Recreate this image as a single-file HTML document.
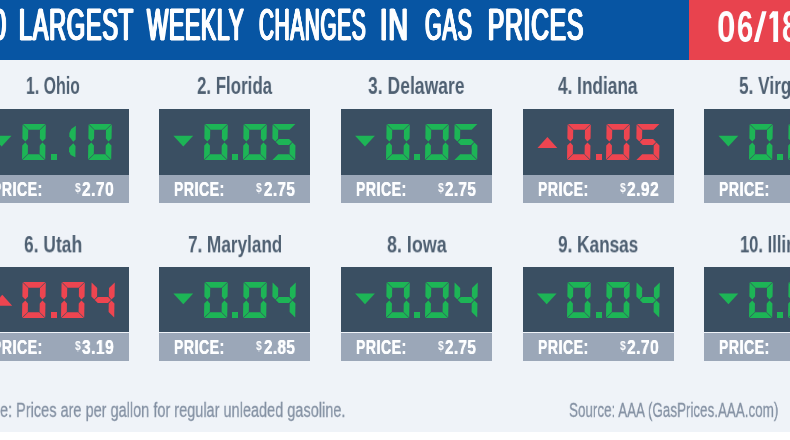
<!DOCTYPE html><html><head><meta charset="utf-8"><title>Gas Prices</title><style>
html,body{margin:0;padding:0}
body{width:790px;height:440px;overflow:hidden;background:#eff3f8;position:relative;font-family:"Liberation Sans",sans-serif}
.t{position:absolute;white-space:nowrap;line-height:1;transform-origin:0 0;display:block;will-change:transform}

</style></head><body>
<div style="position:absolute;left:0;top:0;width:790px;height:60px;background:#0755a3"></div>
<div style="position:absolute;left:688.8px;top:0;width:102px;height:60px;background:#e8434e"></div>
<div style="position:absolute;left:0;top:431.6px;width:790px;height:9px;background:#ffffff"></div>
<div style="position:absolute;left:-22.60px;top:108.80px;width:151.20px;height:65.90px;background:#3a4f62"></div>
<div style="position:absolute;left:-22.60px;top:174.70px;width:151.20px;height:28.70px;background:#9ba7b8"></div>
<svg style="position:absolute;left:0;top:0" width="790" height="440"><polygon points="-8.30,135.70 11.50,135.70 1.60,146.50" fill="#1db556"/></svg>
<svg style="position:absolute;left:22.20px;top:124.00px;overflow:visible" width="25.2" height="36.0" fill="#1db556"><polygon points="1.00,0.00 23.40,0.00 17.61,5.70 6.60,5.70"/><polygon points="23.79,0.40 18.00,6.10 17.86,14.55 20.46,17.52 23.56,14.55"/><polygon points="23.21,35.60 17.60,29.90 17.74,21.45 20.44,18.48 23.44,21.45"/><polygon points="0.40,36.00 22.80,36.00 17.20,30.30 6.19,30.30"/><polygon points="0.01,35.60 5.80,29.90 5.94,21.45 3.34,18.48 0.24,21.45"/><polygon points="0.59,0.40 6.20,6.10 6.06,14.55 3.36,17.52 0.36,14.55"/></svg>
<div style="position:absolute;left:50.50px;top:153.80px;width:6.2px;height:6.2px;background:#1db556"></div>
<svg style="position:absolute;left:52.80px;top:124.00px;overflow:visible" width="25.2" height="36.0" fill="#1db556"><polygon points="22.87,1.80 18.22,5.00 16.35,9.00 16.29,12.50 20.30,17.70 22.64,15.50"/><polygon points="22.53,22.00 20.28,19.30 16.11,23.50 16.04,27.50 17.78,31.00 22.35,33.30"/></svg>
<svg style="position:absolute;left:88.00px;top:124.00px;overflow:visible" width="25.2" height="36.0" fill="#1db556"><polygon points="1.00,0.00 23.40,0.00 17.61,5.70 6.60,5.70"/><polygon points="23.79,0.40 18.00,6.10 17.86,14.55 20.46,17.52 23.56,14.55"/><polygon points="23.21,35.60 17.60,29.90 17.74,21.45 20.44,18.48 23.44,21.45"/><polygon points="0.40,36.00 22.80,36.00 17.20,30.30 6.19,30.30"/><polygon points="0.01,35.60 5.80,29.90 5.94,21.45 3.34,18.48 0.24,21.45"/><polygon points="0.59,0.40 6.20,6.10 6.06,14.55 3.36,17.52 0.36,14.55"/></svg>
<div style="position:absolute;left:159.10px;top:108.80px;width:151.20px;height:65.90px;background:#3a4f62"></div>
<div style="position:absolute;left:159.10px;top:174.70px;width:151.20px;height:28.70px;background:#9ba7b8"></div>
<svg style="position:absolute;left:0;top:0" width="790" height="440"><polygon points="173.40,135.70 193.20,135.70 183.30,146.50" fill="#1db556"/></svg>
<svg style="position:absolute;left:203.90px;top:124.00px;overflow:visible" width="25.2" height="36.0" fill="#1db556"><polygon points="1.00,0.00 23.40,0.00 17.61,5.70 6.60,5.70"/><polygon points="23.79,0.40 18.00,6.10 17.86,14.55 20.46,17.52 23.56,14.55"/><polygon points="23.21,35.60 17.60,29.90 17.74,21.45 20.44,18.48 23.44,21.45"/><polygon points="0.40,36.00 22.80,36.00 17.20,30.30 6.19,30.30"/><polygon points="0.01,35.60 5.80,29.90 5.94,21.45 3.34,18.48 0.24,21.45"/><polygon points="0.59,0.40 6.20,6.10 6.06,14.55 3.36,17.52 0.36,14.55"/></svg>
<div style="position:absolute;left:232.20px;top:153.80px;width:6.2px;height:6.2px;background:#1db556"></div>
<svg style="position:absolute;left:243.00px;top:124.00px;overflow:visible" width="25.2" height="36.0" fill="#1db556"><polygon points="1.00,0.00 23.40,0.00 17.61,5.70 6.60,5.70"/><polygon points="23.79,0.40 18.00,6.10 17.86,14.55 20.46,17.52 23.56,14.55"/><polygon points="23.21,35.60 17.60,29.90 17.74,21.45 20.44,18.48 23.44,21.45"/><polygon points="0.40,36.00 22.80,36.00 17.20,30.30 6.19,30.30"/><polygon points="0.01,35.60 5.80,29.90 5.94,21.45 3.34,18.48 0.24,21.45"/><polygon points="0.59,0.40 6.20,6.10 6.06,14.55 3.36,17.52 0.36,14.55"/></svg>
<svg style="position:absolute;left:272.30px;top:124.00px;overflow:visible" width="25.2" height="36.0" fill="#1db556"><polygon points="1.00,0.00 23.40,0.00 17.61,5.70 6.60,5.70"/><polygon points="0.59,0.40 6.20,6.10 6.06,14.55 3.36,17.52 0.36,14.55"/><polygon points="3.75,18.00 6.85,14.95 17.05,14.95 20.05,18.00 16.95,21.05 6.75,21.05"/><polygon points="23.21,35.60 17.60,29.90 17.74,21.45 20.44,18.48 23.44,21.45"/><polygon points="0.40,36.00 22.80,36.00 17.20,30.30 6.19,30.30"/></svg>
<div style="position:absolute;left:340.80px;top:108.80px;width:151.20px;height:65.90px;background:#3a4f62"></div>
<div style="position:absolute;left:340.80px;top:174.70px;width:151.20px;height:28.70px;background:#9ba7b8"></div>
<svg style="position:absolute;left:0;top:0" width="790" height="440"><polygon points="355.10,135.70 374.90,135.70 365.00,146.50" fill="#1db556"/></svg>
<svg style="position:absolute;left:385.60px;top:124.00px;overflow:visible" width="25.2" height="36.0" fill="#1db556"><polygon points="1.00,0.00 23.40,0.00 17.61,5.70 6.60,5.70"/><polygon points="23.79,0.40 18.00,6.10 17.86,14.55 20.46,17.52 23.56,14.55"/><polygon points="23.21,35.60 17.60,29.90 17.74,21.45 20.44,18.48 23.44,21.45"/><polygon points="0.40,36.00 22.80,36.00 17.20,30.30 6.19,30.30"/><polygon points="0.01,35.60 5.80,29.90 5.94,21.45 3.34,18.48 0.24,21.45"/><polygon points="0.59,0.40 6.20,6.10 6.06,14.55 3.36,17.52 0.36,14.55"/></svg>
<div style="position:absolute;left:413.90px;top:153.80px;width:6.2px;height:6.2px;background:#1db556"></div>
<svg style="position:absolute;left:424.70px;top:124.00px;overflow:visible" width="25.2" height="36.0" fill="#1db556"><polygon points="1.00,0.00 23.40,0.00 17.61,5.70 6.60,5.70"/><polygon points="23.79,0.40 18.00,6.10 17.86,14.55 20.46,17.52 23.56,14.55"/><polygon points="23.21,35.60 17.60,29.90 17.74,21.45 20.44,18.48 23.44,21.45"/><polygon points="0.40,36.00 22.80,36.00 17.20,30.30 6.19,30.30"/><polygon points="0.01,35.60 5.80,29.90 5.94,21.45 3.34,18.48 0.24,21.45"/><polygon points="0.59,0.40 6.20,6.10 6.06,14.55 3.36,17.52 0.36,14.55"/></svg>
<svg style="position:absolute;left:454.00px;top:124.00px;overflow:visible" width="25.2" height="36.0" fill="#1db556"><polygon points="1.00,0.00 23.40,0.00 17.61,5.70 6.60,5.70"/><polygon points="0.59,0.40 6.20,6.10 6.06,14.55 3.36,17.52 0.36,14.55"/><polygon points="3.75,18.00 6.85,14.95 17.05,14.95 20.05,18.00 16.95,21.05 6.75,21.05"/><polygon points="23.21,35.60 17.60,29.90 17.74,21.45 20.44,18.48 23.44,21.45"/><polygon points="0.40,36.00 22.80,36.00 17.20,30.30 6.19,30.30"/></svg>
<div style="position:absolute;left:522.50px;top:108.80px;width:151.20px;height:65.90px;background:#3a4f62"></div>
<div style="position:absolute;left:522.50px;top:174.70px;width:151.20px;height:28.70px;background:#9ba7b8"></div>
<svg style="position:absolute;left:0;top:0" width="790" height="440"><polygon points="537.50,148.00 557.30,148.00 547.40,137.00" fill="#ee4550"/></svg>
<svg style="position:absolute;left:567.30px;top:124.00px;overflow:visible" width="25.2" height="36.0" fill="#ee4550"><polygon points="1.00,0.00 23.40,0.00 17.61,5.70 6.60,5.70"/><polygon points="23.79,0.40 18.00,6.10 17.86,14.55 20.46,17.52 23.56,14.55"/><polygon points="23.21,35.60 17.60,29.90 17.74,21.45 20.44,18.48 23.44,21.45"/><polygon points="0.40,36.00 22.80,36.00 17.20,30.30 6.19,30.30"/><polygon points="0.01,35.60 5.80,29.90 5.94,21.45 3.34,18.48 0.24,21.45"/><polygon points="0.59,0.40 6.20,6.10 6.06,14.55 3.36,17.52 0.36,14.55"/></svg>
<div style="position:absolute;left:595.60px;top:153.80px;width:6.2px;height:6.2px;background:#ee4550"></div>
<svg style="position:absolute;left:606.40px;top:124.00px;overflow:visible" width="25.2" height="36.0" fill="#ee4550"><polygon points="1.00,0.00 23.40,0.00 17.61,5.70 6.60,5.70"/><polygon points="23.79,0.40 18.00,6.10 17.86,14.55 20.46,17.52 23.56,14.55"/><polygon points="23.21,35.60 17.60,29.90 17.74,21.45 20.44,18.48 23.44,21.45"/><polygon points="0.40,36.00 22.80,36.00 17.20,30.30 6.19,30.30"/><polygon points="0.01,35.60 5.80,29.90 5.94,21.45 3.34,18.48 0.24,21.45"/><polygon points="0.59,0.40 6.20,6.10 6.06,14.55 3.36,17.52 0.36,14.55"/></svg>
<svg style="position:absolute;left:635.70px;top:124.00px;overflow:visible" width="25.2" height="36.0" fill="#ee4550"><polygon points="1.00,0.00 23.40,0.00 17.61,5.70 6.60,5.70"/><polygon points="0.59,0.40 6.20,6.10 6.06,14.55 3.36,17.52 0.36,14.55"/><polygon points="3.75,18.00 6.85,14.95 17.05,14.95 20.05,18.00 16.95,21.05 6.75,21.05"/><polygon points="23.21,35.60 17.60,29.90 17.74,21.45 20.44,18.48 23.44,21.45"/><polygon points="0.40,36.00 22.80,36.00 17.20,30.30 6.19,30.30"/></svg>
<div style="position:absolute;left:704.20px;top:108.80px;width:151.20px;height:65.90px;background:#3a4f62"></div>
<div style="position:absolute;left:704.20px;top:174.70px;width:151.20px;height:28.70px;background:#9ba7b8"></div>
<svg style="position:absolute;left:0;top:0" width="790" height="440"><polygon points="718.50,135.70 738.30,135.70 728.40,146.50" fill="#1db556"/></svg>
<svg style="position:absolute;left:749.00px;top:124.00px;overflow:visible" width="25.2" height="36.0" fill="#1db556"><polygon points="1.00,0.00 23.40,0.00 17.61,5.70 6.60,5.70"/><polygon points="23.79,0.40 18.00,6.10 17.86,14.55 20.46,17.52 23.56,14.55"/><polygon points="23.21,35.60 17.60,29.90 17.74,21.45 20.44,18.48 23.44,21.45"/><polygon points="0.40,36.00 22.80,36.00 17.20,30.30 6.19,30.30"/><polygon points="0.01,35.60 5.80,29.90 5.94,21.45 3.34,18.48 0.24,21.45"/><polygon points="0.59,0.40 6.20,6.10 6.06,14.55 3.36,17.52 0.36,14.55"/></svg>
<div style="position:absolute;left:777.30px;top:153.80px;width:6.2px;height:6.2px;background:#1db556"></div>
<svg style="position:absolute;left:788.10px;top:124.00px;overflow:visible" width="25.2" height="36.0" fill="#1db556"><polygon points="1.00,0.00 23.40,0.00 17.61,5.70 6.60,5.70"/><polygon points="23.79,0.40 18.00,6.10 17.86,14.55 20.46,17.52 23.56,14.55"/><polygon points="23.21,35.60 17.60,29.90 17.74,21.45 20.44,18.48 23.44,21.45"/><polygon points="0.40,36.00 22.80,36.00 17.20,30.30 6.19,30.30"/><polygon points="0.01,35.60 5.80,29.90 5.94,21.45 3.34,18.48 0.24,21.45"/><polygon points="0.59,0.40 6.20,6.10 6.06,14.55 3.36,17.52 0.36,14.55"/></svg>
<svg style="position:absolute;left:817.40px;top:124.00px;overflow:visible" width="25.2" height="36.0" fill="#1db556"><polygon points="1.00,0.00 23.40,0.00 17.61,5.70 6.60,5.70"/><polygon points="0.59,0.40 6.20,6.10 6.06,14.55 3.36,17.52 0.36,14.55"/><polygon points="3.75,18.00 6.85,14.95 17.05,14.95 20.05,18.00 16.95,21.05 6.75,21.05"/><polygon points="23.21,35.60 17.60,29.90 17.74,21.45 20.44,18.48 23.44,21.45"/><polygon points="0.40,36.00 22.80,36.00 17.20,30.30 6.19,30.30"/></svg>
<div style="position:absolute;left:-22.60px;top:266.60px;width:151.20px;height:65.90px;background:#3a4f62"></div>
<div style="position:absolute;left:-22.60px;top:332.50px;width:151.20px;height:28.70px;background:#9ba7b8"></div>
<svg style="position:absolute;left:0;top:0" width="790" height="440"><polygon points="-7.60,305.80 12.20,305.80 2.30,294.80" fill="#ee4550"/></svg>
<svg style="position:absolute;left:22.20px;top:281.80px;overflow:visible" width="25.2" height="36.0" fill="#ee4550"><polygon points="1.00,0.00 23.40,0.00 17.61,5.70 6.60,5.70"/><polygon points="23.79,0.40 18.00,6.10 17.86,14.55 20.46,17.52 23.56,14.55"/><polygon points="23.21,35.60 17.60,29.90 17.74,21.45 20.44,18.48 23.44,21.45"/><polygon points="0.40,36.00 22.80,36.00 17.20,30.30 6.19,30.30"/><polygon points="0.01,35.60 5.80,29.90 5.94,21.45 3.34,18.48 0.24,21.45"/><polygon points="0.59,0.40 6.20,6.10 6.06,14.55 3.36,17.52 0.36,14.55"/></svg>
<div style="position:absolute;left:50.50px;top:311.60px;width:6.2px;height:6.2px;background:#ee4550"></div>
<svg style="position:absolute;left:61.30px;top:281.80px;overflow:visible" width="25.2" height="36.0" fill="#ee4550"><polygon points="1.00,0.00 23.40,0.00 17.61,5.70 6.60,5.70"/><polygon points="23.79,0.40 18.00,6.10 17.86,14.55 20.46,17.52 23.56,14.55"/><polygon points="23.21,35.60 17.60,29.90 17.74,21.45 20.44,18.48 23.44,21.45"/><polygon points="0.40,36.00 22.80,36.00 17.20,30.30 6.19,30.30"/><polygon points="0.01,35.60 5.80,29.90 5.94,21.45 3.34,18.48 0.24,21.45"/><polygon points="0.59,0.40 6.20,6.10 6.06,14.55 3.36,17.52 0.36,14.55"/></svg>
<svg style="position:absolute;left:90.60px;top:281.80px;overflow:visible" width="25.2" height="36.0" fill="#ee4550"><polygon points="0.59,0.40 6.20,6.10 6.06,14.55 3.36,17.52 0.36,14.55"/><polygon points="3.75,18.00 6.85,14.95 17.05,14.95 20.05,18.00 16.95,21.05 6.75,21.05"/><polygon points="23.79,0.40 18.00,6.10 17.86,14.55 20.46,17.52 23.56,14.55"/><polygon points="23.21,35.60 17.60,29.90 17.74,21.45 20.44,18.48 23.44,21.45"/></svg>
<div style="position:absolute;left:159.10px;top:266.60px;width:151.20px;height:65.90px;background:#3a4f62"></div>
<div style="position:absolute;left:159.10px;top:332.50px;width:151.20px;height:28.70px;background:#9ba7b8"></div>
<svg style="position:absolute;left:0;top:0" width="790" height="440"><polygon points="173.40,293.50 193.20,293.50 183.30,304.30" fill="#1db556"/></svg>
<svg style="position:absolute;left:203.90px;top:281.80px;overflow:visible" width="25.2" height="36.0" fill="#1db556"><polygon points="1.00,0.00 23.40,0.00 17.61,5.70 6.60,5.70"/><polygon points="23.79,0.40 18.00,6.10 17.86,14.55 20.46,17.52 23.56,14.55"/><polygon points="23.21,35.60 17.60,29.90 17.74,21.45 20.44,18.48 23.44,21.45"/><polygon points="0.40,36.00 22.80,36.00 17.20,30.30 6.19,30.30"/><polygon points="0.01,35.60 5.80,29.90 5.94,21.45 3.34,18.48 0.24,21.45"/><polygon points="0.59,0.40 6.20,6.10 6.06,14.55 3.36,17.52 0.36,14.55"/></svg>
<div style="position:absolute;left:232.20px;top:311.60px;width:6.2px;height:6.2px;background:#1db556"></div>
<svg style="position:absolute;left:243.00px;top:281.80px;overflow:visible" width="25.2" height="36.0" fill="#1db556"><polygon points="1.00,0.00 23.40,0.00 17.61,5.70 6.60,5.70"/><polygon points="23.79,0.40 18.00,6.10 17.86,14.55 20.46,17.52 23.56,14.55"/><polygon points="23.21,35.60 17.60,29.90 17.74,21.45 20.44,18.48 23.44,21.45"/><polygon points="0.40,36.00 22.80,36.00 17.20,30.30 6.19,30.30"/><polygon points="0.01,35.60 5.80,29.90 5.94,21.45 3.34,18.48 0.24,21.45"/><polygon points="0.59,0.40 6.20,6.10 6.06,14.55 3.36,17.52 0.36,14.55"/></svg>
<svg style="position:absolute;left:272.30px;top:281.80px;overflow:visible" width="25.2" height="36.0" fill="#1db556"><polygon points="0.59,0.40 6.20,6.10 6.06,14.55 3.36,17.52 0.36,14.55"/><polygon points="3.75,18.00 6.85,14.95 17.05,14.95 20.05,18.00 16.95,21.05 6.75,21.05"/><polygon points="23.79,0.40 18.00,6.10 17.86,14.55 20.46,17.52 23.56,14.55"/><polygon points="23.21,35.60 17.60,29.90 17.74,21.45 20.44,18.48 23.44,21.45"/></svg>
<div style="position:absolute;left:340.80px;top:266.60px;width:151.20px;height:65.90px;background:#3a4f62"></div>
<div style="position:absolute;left:340.80px;top:332.50px;width:151.20px;height:28.70px;background:#9ba7b8"></div>
<svg style="position:absolute;left:0;top:0" width="790" height="440"><polygon points="355.10,293.50 374.90,293.50 365.00,304.30" fill="#1db556"/></svg>
<svg style="position:absolute;left:385.60px;top:281.80px;overflow:visible" width="25.2" height="36.0" fill="#1db556"><polygon points="1.00,0.00 23.40,0.00 17.61,5.70 6.60,5.70"/><polygon points="23.79,0.40 18.00,6.10 17.86,14.55 20.46,17.52 23.56,14.55"/><polygon points="23.21,35.60 17.60,29.90 17.74,21.45 20.44,18.48 23.44,21.45"/><polygon points="0.40,36.00 22.80,36.00 17.20,30.30 6.19,30.30"/><polygon points="0.01,35.60 5.80,29.90 5.94,21.45 3.34,18.48 0.24,21.45"/><polygon points="0.59,0.40 6.20,6.10 6.06,14.55 3.36,17.52 0.36,14.55"/></svg>
<div style="position:absolute;left:413.90px;top:311.60px;width:6.2px;height:6.2px;background:#1db556"></div>
<svg style="position:absolute;left:424.70px;top:281.80px;overflow:visible" width="25.2" height="36.0" fill="#1db556"><polygon points="1.00,0.00 23.40,0.00 17.61,5.70 6.60,5.70"/><polygon points="23.79,0.40 18.00,6.10 17.86,14.55 20.46,17.52 23.56,14.55"/><polygon points="23.21,35.60 17.60,29.90 17.74,21.45 20.44,18.48 23.44,21.45"/><polygon points="0.40,36.00 22.80,36.00 17.20,30.30 6.19,30.30"/><polygon points="0.01,35.60 5.80,29.90 5.94,21.45 3.34,18.48 0.24,21.45"/><polygon points="0.59,0.40 6.20,6.10 6.06,14.55 3.36,17.52 0.36,14.55"/></svg>
<svg style="position:absolute;left:454.00px;top:281.80px;overflow:visible" width="25.2" height="36.0" fill="#1db556"><polygon points="0.59,0.40 6.20,6.10 6.06,14.55 3.36,17.52 0.36,14.55"/><polygon points="3.75,18.00 6.85,14.95 17.05,14.95 20.05,18.00 16.95,21.05 6.75,21.05"/><polygon points="23.79,0.40 18.00,6.10 17.86,14.55 20.46,17.52 23.56,14.55"/><polygon points="23.21,35.60 17.60,29.90 17.74,21.45 20.44,18.48 23.44,21.45"/></svg>
<div style="position:absolute;left:522.50px;top:266.60px;width:151.20px;height:65.90px;background:#3a4f62"></div>
<div style="position:absolute;left:522.50px;top:332.50px;width:151.20px;height:28.70px;background:#9ba7b8"></div>
<svg style="position:absolute;left:0;top:0" width="790" height="440"><polygon points="536.80,293.50 556.60,293.50 546.70,304.30" fill="#1db556"/></svg>
<svg style="position:absolute;left:567.30px;top:281.80px;overflow:visible" width="25.2" height="36.0" fill="#1db556"><polygon points="1.00,0.00 23.40,0.00 17.61,5.70 6.60,5.70"/><polygon points="23.79,0.40 18.00,6.10 17.86,14.55 20.46,17.52 23.56,14.55"/><polygon points="23.21,35.60 17.60,29.90 17.74,21.45 20.44,18.48 23.44,21.45"/><polygon points="0.40,36.00 22.80,36.00 17.20,30.30 6.19,30.30"/><polygon points="0.01,35.60 5.80,29.90 5.94,21.45 3.34,18.48 0.24,21.45"/><polygon points="0.59,0.40 6.20,6.10 6.06,14.55 3.36,17.52 0.36,14.55"/></svg>
<div style="position:absolute;left:595.60px;top:311.60px;width:6.2px;height:6.2px;background:#1db556"></div>
<svg style="position:absolute;left:606.40px;top:281.80px;overflow:visible" width="25.2" height="36.0" fill="#1db556"><polygon points="1.00,0.00 23.40,0.00 17.61,5.70 6.60,5.70"/><polygon points="23.79,0.40 18.00,6.10 17.86,14.55 20.46,17.52 23.56,14.55"/><polygon points="23.21,35.60 17.60,29.90 17.74,21.45 20.44,18.48 23.44,21.45"/><polygon points="0.40,36.00 22.80,36.00 17.20,30.30 6.19,30.30"/><polygon points="0.01,35.60 5.80,29.90 5.94,21.45 3.34,18.48 0.24,21.45"/><polygon points="0.59,0.40 6.20,6.10 6.06,14.55 3.36,17.52 0.36,14.55"/></svg>
<svg style="position:absolute;left:635.70px;top:281.80px;overflow:visible" width="25.2" height="36.0" fill="#1db556"><polygon points="0.59,0.40 6.20,6.10 6.06,14.55 3.36,17.52 0.36,14.55"/><polygon points="3.75,18.00 6.85,14.95 17.05,14.95 20.05,18.00 16.95,21.05 6.75,21.05"/><polygon points="23.79,0.40 18.00,6.10 17.86,14.55 20.46,17.52 23.56,14.55"/><polygon points="23.21,35.60 17.60,29.90 17.74,21.45 20.44,18.48 23.44,21.45"/></svg>
<div style="position:absolute;left:704.20px;top:266.60px;width:151.20px;height:65.90px;background:#3a4f62"></div>
<div style="position:absolute;left:704.20px;top:332.50px;width:151.20px;height:28.70px;background:#9ba7b8"></div>
<svg style="position:absolute;left:0;top:0" width="790" height="440"><polygon points="718.50,293.50 738.30,293.50 728.40,304.30" fill="#1db556"/></svg>
<svg style="position:absolute;left:749.00px;top:281.80px;overflow:visible" width="25.2" height="36.0" fill="#1db556"><polygon points="1.00,0.00 23.40,0.00 17.61,5.70 6.60,5.70"/><polygon points="23.79,0.40 18.00,6.10 17.86,14.55 20.46,17.52 23.56,14.55"/><polygon points="23.21,35.60 17.60,29.90 17.74,21.45 20.44,18.48 23.44,21.45"/><polygon points="0.40,36.00 22.80,36.00 17.20,30.30 6.19,30.30"/><polygon points="0.01,35.60 5.80,29.90 5.94,21.45 3.34,18.48 0.24,21.45"/><polygon points="0.59,0.40 6.20,6.10 6.06,14.55 3.36,17.52 0.36,14.55"/></svg>
<div style="position:absolute;left:777.30px;top:311.60px;width:6.2px;height:6.2px;background:#1db556"></div>
<svg style="position:absolute;left:788.10px;top:281.80px;overflow:visible" width="25.2" height="36.0" fill="#1db556"><polygon points="1.00,0.00 23.40,0.00 17.61,5.70 6.60,5.70"/><polygon points="23.79,0.40 18.00,6.10 17.86,14.55 20.46,17.52 23.56,14.55"/><polygon points="23.21,35.60 17.60,29.90 17.74,21.45 20.44,18.48 23.44,21.45"/><polygon points="0.40,36.00 22.80,36.00 17.20,30.30 6.19,30.30"/><polygon points="0.01,35.60 5.80,29.90 5.94,21.45 3.34,18.48 0.24,21.45"/><polygon points="0.59,0.40 6.20,6.10 6.06,14.55 3.36,17.52 0.36,14.55"/></svg>
<svg style="position:absolute;left:817.40px;top:281.80px;overflow:visible" width="25.2" height="36.0" fill="#1db556"><polygon points="0.59,0.40 6.20,6.10 6.06,14.55 3.36,17.52 0.36,14.55"/><polygon points="3.75,18.00 6.85,14.95 17.05,14.95 20.05,18.00 16.95,21.05 6.75,21.05"/><polygon points="23.79,0.40 18.00,6.10 17.86,14.55 20.46,17.52 23.56,14.55"/><polygon points="23.21,35.60 17.60,29.90 17.74,21.45 20.44,18.48 23.44,21.45"/></svg>
<svg style="position:absolute;left:0;top:0" width="790" height="60" fill="#fdfeff"><polygon points="753.9,42 758.4,42 766.6,11.3 762.1,11.3"/><rect x="773.3" y="11.3" width="4.8" height="30.7"/><polygon points="774,11.3 772.6,11.3 769.5,15.4 769.5,19.2 774,17.0"/></svg>
<span class="t" id="h0" style="font-size:44px;font-weight:400;color:#fdfeff;letter-spacing:1.6px;text-shadow:1.8px 0 0 #fdfeff,-1.8px 0 0 #fdfeff,0.9px 0 0 #fdfeff,-0.9px 0 0 #fdfeff;-webkit-text-stroke:0.8px #fdfeff;left:18.98px;top:3.06px;transform:scale(0.5304,1.0065);">LARGEST</span>
<span class="t" id="h1" style="font-size:44px;font-weight:400;color:#fdfeff;letter-spacing:1.6px;text-shadow:1.8px 0 0 #fdfeff,-1.8px 0 0 #fdfeff,0.9px 0 0 #fdfeff,-0.9px 0 0 #fdfeff;-webkit-text-stroke:0.8px #fdfeff;left:147.33px;top:3.06px;transform:scale(0.5141,1.0065);">WEEKLY</span>
<span class="t" id="h2" style="font-size:44px;font-weight:400;color:#fdfeff;letter-spacing:1.6px;text-shadow:1.8px 0 0 #fdfeff,-1.8px 0 0 #fdfeff,0.9px 0 0 #fdfeff,-0.9px 0 0 #fdfeff;-webkit-text-stroke:0.8px #fdfeff;left:258.99px;top:3.06px;transform:scale(0.4692,1.0065);">CHANGES</span>
<span class="t" id="h3" style="font-size:44px;font-weight:400;color:#fdfeff;letter-spacing:1.6px;text-shadow:1.8px 0 0 #fdfeff,-1.8px 0 0 #fdfeff,0.9px 0 0 #fdfeff,-0.9px 0 0 #fdfeff;-webkit-text-stroke:0.8px #fdfeff;left:380.49px;top:3.06px;transform:scale(0.6154,1.0065);">IN</span>
<span class="t" id="h4" style="font-size:44px;font-weight:400;color:#fdfeff;letter-spacing:1.6px;text-shadow:1.8px 0 0 #fdfeff,-1.8px 0 0 #fdfeff,0.9px 0 0 #fdfeff,-0.9px 0 0 #fdfeff;-webkit-text-stroke:0.8px #fdfeff;left:425.10px;top:3.06px;transform:scale(0.4878,1.0065);">GAS</span>
<span class="t" id="h5" style="font-size:44px;font-weight:400;color:#fdfeff;letter-spacing:1.6px;text-shadow:1.8px 0 0 #fdfeff,-1.8px 0 0 #fdfeff,0.9px 0 0 #fdfeff,-0.9px 0 0 #fdfeff;-webkit-text-stroke:0.8px #fdfeff;left:487.56px;top:3.06px;transform:scale(0.5539,1.0065);">PRICES</span>
<span class="t" id="h10" style="font-size:44px;font-weight:400;color:#fdfeff;letter-spacing:1.6px;text-shadow:1.8px 0 0 #fdfeff,-1.8px 0 0 #fdfeff,0.9px 0 0 #fdfeff,-0.9px 0 0 #fdfeff;-webkit-text-stroke:0.8px #fdfeff;left:-22.44px;top:3.06px;transform:scale(0.5548,1.0065);">10</span>
<span class="t" id="date0" style="font-size:45px;font-weight:700;color:#fdfeff;left:717.17px;top:4.00px;transform:scale(0.7348,1.0000);">0</span>
<span class="t" id="date1" style="font-size:45px;font-weight:700;color:#fdfeff;left:737.36px;top:4.00px;transform:scale(0.6435,1.0000);">6</span>
<span class="t" id="date2" style="font-size:45px;font-weight:700;color:#fdfeff;left:781.65px;top:4.00px;transform:scale(0.6478,1.0000);">8</span>
<span class="t" id="lab00" style="font-size:23px;font-weight:700;color:#4f6072;left:25.76px;top:74.21px;transform:scale(0.6905,1.0353);">1. Ohio</span>
<span class="t" id="pr00" style="font-size:19px;font-weight:700;color:#fdfeff;letter-spacing:1.0px;text-shadow:0.35px 0 0 #fdfeff,-0.35px 0 0 #fdfeff;left:-7.57px;top:180.05px;transform:scale(0.7245,1.0154);">PRICE:</span>
<span class="t" id="ds00" style="font-size:12.5px;font-weight:700;color:#fdfeff;left:74.60px;top:182.11px;transform:scale(0.8286,1.0333);">$</span>
<span class="t" id="pv00" style="font-size:19px;font-weight:700;color:#fdfeff;letter-spacing:0.6px;text-shadow:0.3px 0 0 #fdfeff,-0.3px 0 0 #fdfeff;left:82.05px;top:180.05px;transform:scale(0.8167,1.0154);">2.70</span>
<span class="t" id="lab01" style="font-size:23px;font-weight:700;color:#4f6072;left:197.10px;top:74.21px;transform:scale(0.7340,1.0353);">2. Florida</span>
<span class="t" id="pr01" style="font-size:19px;font-weight:700;color:#fdfeff;letter-spacing:1.0px;text-shadow:0.35px 0 0 #fdfeff,-0.35px 0 0 #fdfeff;left:174.13px;top:180.05px;transform:scale(0.7245,1.0154);">PRICE:</span>
<span class="t" id="ds01" style="font-size:12.5px;font-weight:700;color:#fdfeff;left:256.30px;top:182.11px;transform:scale(0.8286,1.0333);">$</span>
<span class="t" id="pv01" style="font-size:19px;font-weight:700;color:#fdfeff;letter-spacing:0.6px;text-shadow:0.3px 0 0 #fdfeff,-0.3px 0 0 #fdfeff;left:263.74px;top:180.05px;transform:scale(0.7962,1.0154);">2.75</span>
<span class="t" id="lab02" style="font-size:23px;font-weight:700;color:#4f6072;left:368.40px;top:74.21px;transform:scale(0.7632,1.0353);">3. Delaware</span>
<span class="t" id="pr02" style="font-size:19px;font-weight:700;color:#fdfeff;letter-spacing:1.0px;text-shadow:0.35px 0 0 #fdfeff,-0.35px 0 0 #fdfeff;left:355.83px;top:180.05px;transform:scale(0.7245,1.0154);">PRICE:</span>
<span class="t" id="ds02" style="font-size:12.5px;font-weight:700;color:#fdfeff;left:438.00px;top:182.11px;transform:scale(0.8286,1.0333);">$</span>
<span class="t" id="pv02" style="font-size:19px;font-weight:700;color:#fdfeff;letter-spacing:0.6px;text-shadow:0.3px 0 0 #fdfeff,-0.3px 0 0 #fdfeff;left:445.44px;top:180.05px;transform:scale(0.7962,1.0154);">2.75</span>
<span class="t" id="lab03" style="font-size:23px;font-weight:700;color:#4f6072;left:558.30px;top:74.21px;transform:scale(0.7489,1.0353);">4. Indiana</span>
<span class="t" id="pr03" style="font-size:19px;font-weight:700;color:#fdfeff;letter-spacing:1.0px;text-shadow:0.35px 0 0 #fdfeff,-0.35px 0 0 #fdfeff;left:537.53px;top:180.05px;transform:scale(0.7245,1.0154);">PRICE:</span>
<span class="t" id="ds03" style="font-size:12.5px;font-weight:700;color:#fdfeff;left:619.70px;top:182.11px;transform:scale(0.8286,1.0333);">$</span>
<span class="t" id="pv03" style="font-size:19px;font-weight:700;color:#fdfeff;letter-spacing:0.6px;text-shadow:0.3px 0 0 #fdfeff,-0.3px 0 0 #fdfeff;left:627.15px;top:180.05px;transform:scale(0.8167,1.0154);">2.92</span>
<span class="t" id="lab04" style="font-size:23px;font-weight:700;color:#4f6072;left:738.70px;top:74.21px;transform:scale(0.7492,1.0353);">5. Virginia</span>
<span class="t" id="pr04" style="font-size:19px;font-weight:700;color:#fdfeff;letter-spacing:1.0px;text-shadow:0.35px 0 0 #fdfeff,-0.35px 0 0 #fdfeff;left:719.23px;top:180.05px;transform:scale(0.7245,1.0154);">PRICE:</span>
<span class="t" id="ds04" style="font-size:12.5px;font-weight:700;color:#fdfeff;left:801.40px;top:182.11px;transform:scale(0.8286,1.0333);">$</span>
<span class="t" id="pv04" style="font-size:19px;font-weight:700;color:#fdfeff;letter-spacing:0.6px;text-shadow:0.3px 0 0 #fdfeff,-0.3px 0 0 #fdfeff;left:808.85px;top:180.05px;transform:scale(0.8167,1.0154);">2.73</span>
<span class="t" id="lab10" style="font-size:23px;font-weight:700;color:#4f6072;left:24.35px;top:233.99px;transform:scale(0.7576,0.9647);">6. Utah</span>
<span class="t" id="pr10" style="font-size:19px;font-weight:700;color:#fdfeff;letter-spacing:1.0px;text-shadow:0.35px 0 0 #fdfeff,-0.35px 0 0 #fdfeff;left:-7.57px;top:337.85px;transform:scale(0.7245,1.0154);">PRICE:</span>
<span class="t" id="ds10" style="font-size:12.5px;font-weight:700;color:#fdfeff;left:74.60px;top:339.91px;transform:scale(0.8286,1.0333);">$</span>
<span class="t" id="pv10" style="font-size:19px;font-weight:700;color:#fdfeff;letter-spacing:0.6px;text-shadow:0.3px 0 0 #fdfeff,-0.3px 0 0 #fdfeff;left:82.05px;top:337.85px;transform:scale(0.8167,1.0154);">3.19</span>
<span class="t" id="lab11" style="font-size:23px;font-weight:700;color:#4f6072;left:187.95px;top:233.99px;transform:scale(0.7450,0.9647);">7. Maryland</span>
<span class="t" id="pr11" style="font-size:19px;font-weight:700;color:#fdfeff;letter-spacing:1.0px;text-shadow:0.35px 0 0 #fdfeff,-0.35px 0 0 #fdfeff;left:174.13px;top:337.85px;transform:scale(0.7245,1.0154);">PRICE:</span>
<span class="t" id="ds11" style="font-size:12.5px;font-weight:700;color:#fdfeff;left:256.30px;top:339.91px;transform:scale(0.8286,1.0333);">$</span>
<span class="t" id="pv11" style="font-size:19px;font-weight:700;color:#fdfeff;letter-spacing:0.6px;text-shadow:0.3px 0 0 #fdfeff,-0.3px 0 0 #fdfeff;left:263.74px;top:337.85px;transform:scale(0.7962,1.0154);">2.85</span>
<span class="t" id="lab12" style="font-size:23px;font-weight:700;color:#4f6072;left:386.50px;top:233.99px;transform:scale(0.7776,0.9647);">8. Iowa</span>
<span class="t" id="pr12" style="font-size:19px;font-weight:700;color:#fdfeff;letter-spacing:1.0px;text-shadow:0.35px 0 0 #fdfeff,-0.35px 0 0 #fdfeff;left:355.83px;top:337.85px;transform:scale(0.7245,1.0154);">PRICE:</span>
<span class="t" id="ds12" style="font-size:12.5px;font-weight:700;color:#fdfeff;left:438.00px;top:339.91px;transform:scale(0.8286,1.0333);">$</span>
<span class="t" id="pv12" style="font-size:19px;font-weight:700;color:#fdfeff;letter-spacing:0.6px;text-shadow:0.3px 0 0 #fdfeff,-0.3px 0 0 #fdfeff;left:445.44px;top:337.85px;transform:scale(0.7962,1.0154);">2.75</span>
<span class="t" id="lab13" style="font-size:23px;font-weight:700;color:#4f6072;left:558.25px;top:233.99px;transform:scale(0.7476,0.9647);">9. Kansas</span>
<span class="t" id="pr13" style="font-size:19px;font-weight:700;color:#fdfeff;letter-spacing:1.0px;text-shadow:0.35px 0 0 #fdfeff,-0.35px 0 0 #fdfeff;left:537.53px;top:337.85px;transform:scale(0.7245,1.0154);">PRICE:</span>
<span class="t" id="ds13" style="font-size:12.5px;font-weight:700;color:#fdfeff;left:619.70px;top:339.91px;transform:scale(0.8286,1.0333);">$</span>
<span class="t" id="pv13" style="font-size:19px;font-weight:700;color:#fdfeff;letter-spacing:0.6px;text-shadow:0.3px 0 0 #fdfeff,-0.3px 0 0 #fdfeff;left:627.15px;top:337.85px;transform:scale(0.8167,1.0154);">2.70</span>
<span class="t" id="lab14" style="font-size:23px;font-weight:700;color:#4f6072;left:739.68px;top:233.99px;transform:scale(0.7202,0.9647);">10. Illinois</span>
<span class="t" id="pr14" style="font-size:19px;font-weight:700;color:#fdfeff;letter-spacing:1.0px;text-shadow:0.35px 0 0 #fdfeff,-0.35px 0 0 #fdfeff;left:719.23px;top:337.85px;transform:scale(0.7245,1.0154);">PRICE:</span>
<span class="t" id="ds14" style="font-size:12.5px;font-weight:700;color:#fdfeff;left:801.40px;top:339.91px;transform:scale(0.8286,1.0333);">$</span>
<span class="t" id="pv14" style="font-size:19px;font-weight:700;color:#fdfeff;letter-spacing:0.6px;text-shadow:0.3px 0 0 #fdfeff,-0.3px 0 0 #fdfeff;left:808.85px;top:337.85px;transform:scale(0.8167,1.0154);">2.97</span>
<span class="t" id="f1" style="font-size:19px;font-weight:400;color:#8390a2;-webkit-text-stroke:0.25px #8390a2;left:0.10px;top:399.55px;transform:scale(0.7640,1.0846);">e: Prices are per gallon for regular unleaded gasoline.</span>
<span class="t" id="f2" style="font-size:19px;font-weight:400;color:#8390a2;-webkit-text-stroke:0.25px #8390a2;left:568.69px;top:399.55px;transform:scale(0.7053,1.0846);">Source: AAA (GasPrices.AAA.com)</span>
</body></html>
